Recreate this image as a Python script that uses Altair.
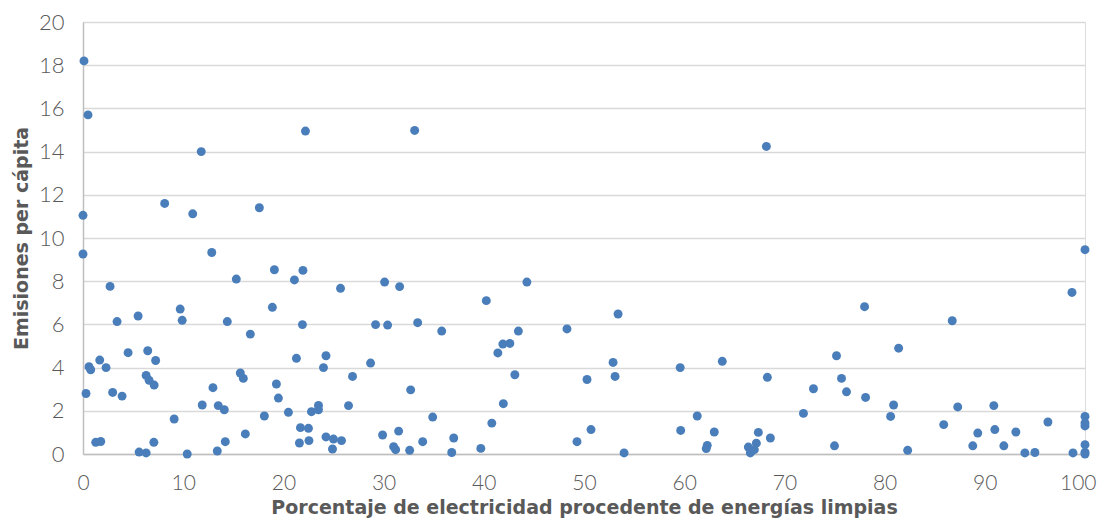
import altair as alt
import pandas as pd

clean_pct = [
    0.1, 0.5, 11.8, 22.2, 33.1, 0.0, 8.15, 10.95, 17.6, 68.2, 100,
    0.0, 12.85, 2.7, 15.3, 19.1, 21.1, 21.95, 25.7, 30.1, 31.6,
    3.4, 5.5, 9.7, 9.9, 14.4, 16.7, 18.9, 21.9, 29.2, 30.4, 33.4,
    0.6, 0.77, 1.67, 2.3, 4.5, 6.46, 7.25, 6.3, 6.6, 7.1,
    0.3, 2.96, 3.9, 9.1, 11.9, 12.97, 13.5, 14.1, 15.7, 16.0, 16.2,
    18.1, 19.3, 19.5, 20.5, 21.3, 21.7, 22.5, 21.6, 22.55, 22.8,
    23.5, 23.5, 24.0, 24.25, 24.25, 25.0, 25.8, 24.9, 26.9, 26.5,
    28.7, 29.9, 31.5, 31.0, 31.2, 32.6, 32.7, 33.9, 1.27, 1.77,
    5.6, 6.3, 7.07, 10.4, 13.4, 14.2,
    44.3, 40.25, 35.8, 48.3, 53.4, 43.45, 41.9, 42.6, 41.4, 43.1,
    41.95, 34.9, 40.8, 50.3, 52.9, 53.1, 59.6, 63.8, 61.3, 59.65,
    63.0, 50.7, 49.3, 54.0, 37.0, 36.8, 39.7, 62.3, 62.2, 66.4,
    66.6, 67.0, 67.2, 67.4,
    98.7, 78.0, 86.75, 81.4, 75.2, 68.3, 75.7, 72.9, 76.2, 78.1,
    80.9, 80.6, 71.9, 87.3, 90.9, 85.9, 89.3, 91.0, 93.1, 96.3,
    100, 100, 100, 100, 100, 100, 98.8, 94.0, 95.0, 91.9, 88.8,
    82.3, 75.0, 68.6,
]

emissions = [
    18.2, 15.7, 14.0, 14.95, 14.98, 11.05, 11.6, 11.12, 11.4, 14.24, 9.46,
    9.26, 9.33, 7.76, 8.1, 8.53, 8.06, 8.5, 7.67, 7.96, 7.75,
    6.13, 6.39, 6.71, 6.19, 6.13, 5.55, 6.79, 5.99, 5.99, 5.97, 6.08,
    4.04, 3.9, 4.35, 4.0, 4.69, 4.78, 4.33, 3.64, 3.41, 3.19,
    2.8, 2.85, 2.68, 1.62, 2.27, 3.07, 2.24, 2.05, 3.75, 3.5, 0.93,
    1.76, 3.24, 2.59, 1.93, 4.43, 1.22, 1.19, 0.51, 0.62, 1.96,
    2.25, 2.05, 4.0, 4.55, 0.79, 0.69, 0.62, 0.23, 3.59, 2.24,
    4.21, 0.88, 1.06, 0.34, 0.2, 0.17, 2.97, 0.57, 0.54, 0.58,
    0.09, 0.05, 0.54, 0.0, 0.14, 0.57,
    7.96, 7.1, 5.69, 5.79, 6.48, 5.69, 5.09, 5.12, 4.68, 3.67,
    2.33, 1.71, 1.43, 3.45, 4.24, 3.59, 4.0, 4.29, 1.76, 1.09,
    1.02, 1.13, 0.57, 0.05, 0.74, 0.07, 0.26, 0.4, 0.25, 0.32,
    0.05, 0.2, 0.5, 1.0,
    7.48, 6.82, 6.17, 4.9, 4.55, 3.55, 3.5, 3.02, 2.88, 2.62,
    2.27, 1.74, 1.88, 2.18, 2.24, 1.36, 0.97, 1.13, 1.02, 1.48,
    1.74, 1.44, 1.3, 0.43, 0.08, 0.0, 0.05, 0.05, 0.07, 0.38, 0.38,
    0.17, 0.38, 0.74,
]

x_ticks = [0, 10, 20, 30, 40, 50, 60, 70, 80, 90, 100]
y_ticks = [0, 2, 4, 6, 8, 10, 12, 14, 16, 18, 20]

df = pd.DataFrame({"pct": clean_pct, "em": emissions})

LABEL_FONT = "Lato"
TITLE_FONT = "DejaVu Sans"
TXT = "#595959"

last_label = {"test": "datum.value == 100", "value": "right"}
last_offset = {"test": "datum.value == 100", "value": 11}

chart = (
    alt.Chart(df)
    .mark_circle(size=80, color="#4A7EBB", opacity=1)
    .encode(
        x=alt.X(
            "pct:Q",
            scale=alt.Scale(domain=[0, 100], nice=False, zero=True),
            axis=alt.Axis(
                title="Porcentaje de electricidad procedente de energías limpias",
                values=x_ticks,
                grid=False,
                ticks=False,
                domain=True,
                domainColor="#BFBFBF",
                domainWidth=1.5,
                labelFlush=False,
                labelAlign={"condition": last_label, "value": "center"},
                labelOffset={"condition": last_offset, "value": 0},
                labelFont=LABEL_FONT,
                labelFontSize=21,
                labelFontWeight=300,
                labelColor=TXT,
                labelPadding=18,
                titleFont=TITLE_FONT,
                titleFontSize=19,
                titleFontWeight="bold",
                titleColor=TXT,
                titleBaseline="alphabetic",
                titleY=59,
            ),
        ),
        y=alt.Y(
            "em:Q",
            scale=alt.Scale(domain=[0, 20], nice=False),
            axis=alt.Axis(
                title="Emisiones per cápita",
                values=y_ticks,
                grid=True,
                gridColor="#D9D9D9",
                gridWidth=1.5,
                ticks=False,
                domain=True,
                domainColor="#BFBFBF",
                domainWidth=1.5,
                labelFont=LABEL_FONT,
                labelFontSize=22,
                labelFontWeight=300,
                labelColor=TXT,
                labelPadding=19,
                titleFont=TITLE_FONT,
                titleFontSize=19,
                titleFontWeight="bold",
                titleColor=TXT,
                titlePadding=7,
            ),
        ),
    )
    .properties(
        width=1002,
        height=432,
        autosize=alt.AutoSizeParams(type="none"),
        padding={"left": 75, "top": 14, "right": 12, "bottom": 64},
    )
    .configure_view(stroke=None)
    .configure(background="white")
)

chart.save("out.html", embed_options={"renderer": "svg", "actions": False})
